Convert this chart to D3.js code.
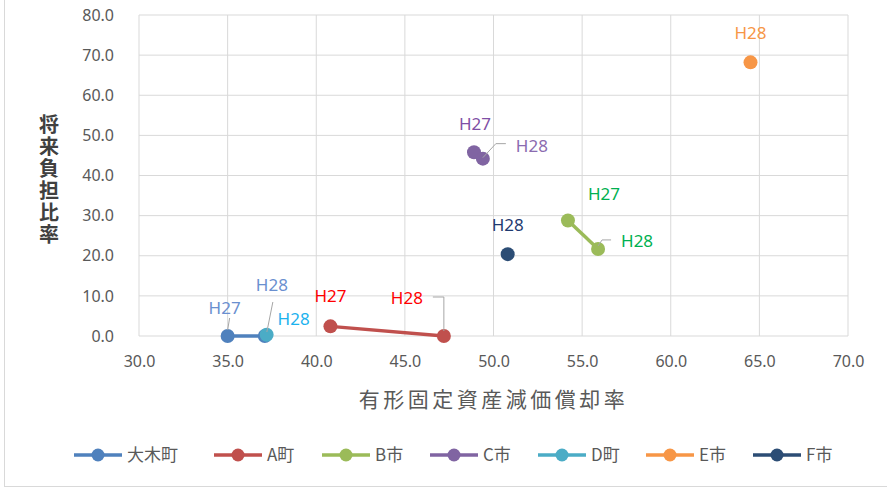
<!DOCTYPE html>
<html>
<head>
<meta charset="utf-8">
<script src="https://cdn.jsdelivr.net/npm/d3@7"></script>
<style>
  body { margin: 0; background: #fff; }
  text { font-family: "Noto Sans CJK JP", "Noto Sans", sans-serif; }
</style>
</head>
<body>
<div id="chart"></div>
<script>
// series names (legend order)
const seriesNames = ["大木町", "A町", "B市", "C市", "D町", "E市", "F市"];
// x = 有形固定資産減価償却率, y = 将来負担比率, per year
const ookiX = [35.0, 37.1], ookiY = [0.0, 0.0], ookiYears = ["H27", "H28"];
const aX = [40.8, 47.2], aY = [2.4, 0.0], aYears = ["H27", "H28"];
const bX = [54.2, 55.9], bY = [28.8, 21.7], bYears = ["H27", "H28"];
const cX = [48.9, 49.4], cY = [45.8, 44.2], cYears = ["H27", "H28"];
const dX = [37.2], dY = [0.3], dYears = ["H28"];
const eX = [64.5], eY = [68.2], eYears = ["H28"];
const fX = [50.8], fY = [20.4], fYears = ["H28"];
const xTicks = [30, 35, 40, 45, 50, 55, 60, 65, 70];
const yTicks = [0, 10, 20, 30, 40, 50, 60, 70, 80];

const colors = ["#4F81BD", "#C0504D", "#9BBB59", "#8064A2", "#4BACC6", "#F79646", "#2C4D75"];
// label colour, offset from point, optional leader
const labelStyle = [
  [{ c: "#6A8FCF", dx: -3, dy: -28, lead: [[0, -6], [2, -18]] },
   { c: "#6A8FCF", dx: 7, dy: -51, lead: [[2, -4], [8, -34]] }],
  [{ c: "#FF0000", dx: 0, dy: -30 },
   { c: "#FF0000", dx: -37, dy: -38, lead: [[0, -5], [0, -39], [-11, -39]] }],
  [{ c: "#00B050", dx: 36, dy: -26 },
   { c: "#00B050", dx: 39, dy: -8, lead: [[0, -3], [4, -9], [13, -9]] }],
  [{ c: "#7F4FA6", dx: 1, dy: -28 },
   { c: "#8B6BB0", dx: 49, dy: -13, lead: [[0, -1], [13, -15], [23, -15]] }],
  [{ c: "#1CB2EE", dx: 27, dy: -16 }],
  [{ c: "#F79646", dx: 0, dy: -29 }],
  [{ c: "#1F3A70", dx: 0, dy: -29 }]
];

const series = [
  [ookiX, ookiY, ookiYears], [aX, aY, aYears], [bX, bY, bYears], [cX, cY, cYears],
  [dX, dY, dYears], [eX, eY, eYears], [fX, fY, fYears]
].map((s, i) => ({
  name: seriesNames[i],
  color: colors[i],
  points: s[0].map((x, j) => ({ x: x, y: s[1][j], year: s[2][j], lab: labelStyle[i][j] }))
}));

const width = 887, height = 488,
  margin = { top: 15, right: 39, bottom: 152, left: 139 };
const pw = width - margin.left - margin.right,
  ph = height - margin.top - margin.bottom;

const svg = d3.select("#chart").append("svg")
  .attr("width", width).attr("height", height);

// chart area border
svg.append("rect")
  .attr("x", 4.5).attr("y", -2).attr("width", width + 10).attr("height", 488.5)
  .attr("fill", "#fff").attr("stroke", "#D9D9D9");

const g = svg.append("g").attr("transform", `translate(${margin.left},${margin.top})`);

const x = d3.scaleLinear().domain([30, 70]).range([0, pw]);
const y = d3.scaleLinear().domain([0, 80]).range([ph, 0]);

// gridlines
g.append("g").selectAll("line").data(xTicks).enter().append("line")
  .attr("x1", d => x(d)).attr("x2", d => x(d)).attr("y1", 0).attr("y2", ph)
  .attr("stroke", "#D9D9D9").attr("stroke-width", 1);
g.append("g").selectAll("line").data(yTicks).enter().append("line")
  .attr("x1", 0).attr("x2", pw).attr("y1", d => y(d)).attr("y2", d => y(d))
  .attr("stroke", "#D9D9D9").attr("stroke-width", 1);

// axes (labels only)
const xAxis = g.append("g").attr("transform", `translate(0,${ph})`)
  .call(d3.axisBottom(x).tickValues(xTicks).tickFormat(d3.format(".1f")).tickSize(0).tickPadding(20));
const yAxis = g.append("g")
  .call(d3.axisLeft(y).tickValues(yTicks).tickFormat(d3.format(".1f")).tickSize(0).tickPadding(25));
[xAxis, yAxis].forEach(a => {
  a.select(".domain").remove();
  a.selectAll("text").attr("fill", "#595959").style("font-size", "16px")
    .style("font-family", "'Noto Sans', sans-serif");
});

// axis titles
svg.append("text")
  .attr("x", margin.left + pw / 2).attr("y", 407)
  .attr("text-anchor", "middle").attr("fill", "#595959")
  .style("font-size", "21px").style("letter-spacing", "3.5px")
  .text("有形固定資産減価償却率");
svg.append("text")
  .attr("x", 49).attr("y", 180)
  .attr("text-anchor", "middle").attr("fill", "#404040")
  .style("writing-mode", "vertical-rl").style("text-orientation", "upright")
  .style("font-size", "20px").style("font-weight", "bold").style("letter-spacing", "2px")
  .text("将来負担比率");

// lines
const line = d3.line().x(d => x(d.x)).y(d => y(d.y));
g.selectAll(".series-line").data(series.filter(s => s.points.length > 1)).enter()
  .append("path").attr("class", "series-line")
  .attr("d", s => line(s.points)).attr("fill", "none")
  .attr("stroke", s => s.color).attr("stroke-width", 3.5);

// markers
series.forEach(s => {
  g.selectAll(null).data(s.points).enter().append("circle")
    .attr("cx", d => x(d.x)).attr("cy", d => y(d.y)).attr("r", 7)
    .attr("fill", s.color);
});

// leaders and data labels
series.forEach(s => {
  s.points.forEach(p => {
    const px = x(p.x), py = y(p.y), l = p.lab;
    if (l.lead) {
      g.append("polyline")
        .attr("points", l.lead.map(o => [px + o[0], py + o[1]].join(",")).join(" "))
        .attr("fill", "none").attr("stroke", "#A6A6A6").attr("stroke-width", 1);
    }
    g.append("text")
      .attr("x", px + l.dx).attr("y", py + l.dy).attr("dy", "0.35em")
      .attr("text-anchor", "middle").attr("fill", l.c)
      .style("font-size", "17px").style("font-family", "'Noto Sans', sans-serif")
      .text(p.year);
  });
});

// legend
const legendX = [74, 214, 322, 430, 538, 646, 753];
const legend = svg.append("g").selectAll("g").data(series).enter().append("g")
  .attr("transform", (d, i) => `translate(${legendX[i]},455)`);
legend.append("line").attr("x1", 0).attr("x2", 48)
  .attr("stroke", d => d.color).attr("stroke-width", 3.5);
legend.append("circle").attr("cx", 24).attr("r", 6.5).attr("fill", d => d.color);
legend.append("text").attr("x", 53).attr("dy", "0.35em")
  .attr("fill", "#595959").style("font-size", "17px")
  .text(d => d.name);
</script>
</body>
</html>
